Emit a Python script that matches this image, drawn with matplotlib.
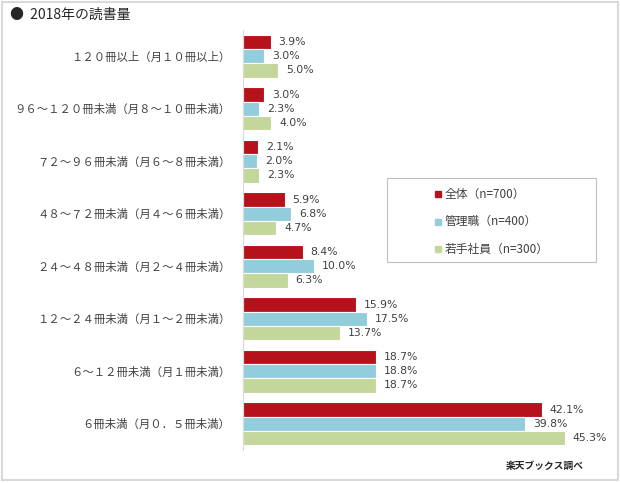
import numpy as np
import matplotlib.pyplot as plt
from matplotlib.patches import Rectangle

plt.rcParams['font.family'] = ['Noto Sans CJK JP', 'DejaVu Sans']

categories = ['１２０冊以上（月１０冊以上）', '９６～１２０冊未満（月８～１０冊未満）',
              '７２～９６冊未満（月６～８冊未満）', '４８～７２冊未満（月４～６冊未満）',
              '２４～４８冊未満（月２～４冊未満）', '１２～２４冊未満（月１～２冊未満）',
              '６～１２冊未満（月１冊未満）', '６冊未満（月０．５冊未満）']
zentai = [3.9, 3.0, 2.1, 5.9, 8.4, 15.9, 18.7, 42.1]
kanri = [3.0, 2.3, 2.0, 6.8, 10.0, 17.5, 18.8, 39.8]
wakate = [5.0, 4.0, 2.3, 4.7, 6.3, 13.7, 18.7, 45.3]
series_names = ['全体（n=700）', '管理職（n=400）', '若手社員（n=300）']
colors = ['#B5121B', '#92CDDC', '#C4D79B']

W, H = 620, 483
fig = plt.figure(figsize=(6.2, 4.83), dpi=100)
fig.patches.append(Rectangle((0.004, 0.006), 0.992, 0.99, transform=fig.transFigure,
                             fill=False, edgecolor='#D9D9D9', linewidth=1.5))
ax = fig.add_axes([243 / W, 1 - 450 / H, (600 - 243) / W, 420 / H])

y = np.arange(len(categories))
h = 0.27
for i, (vals, c) in enumerate(zip([zentai, kanri, wakate], colors)):
    pos = y + (i - 1) * h
    ax.barh(pos, vals, height=h, color=c, edgecolor='white', linewidth=0.8)
    for p, v in zip(pos, vals):
        ax.text(v + 1.1, p, f'{v:.1f}%', va='center', ha='left', fontsize=7.8,
                color='#404040', family='DejaVu Sans')

ax.set_xlim(0, 50.3)
ax.set_ylim(len(categories) - 0.5, -0.5)
ax.set_yticks(y)
ax.set_yticklabels(categories, fontsize=8.2, color='#404040')
ax.tick_params(axis='y', length=0, pad=9)
ax.set_xticks([])
for s in ['top', 'right', 'bottom']:
    ax.spines[s].set_visible(False)
ax.spines['left'].set_color('#D9D9D9')

# legend box drawn by hand to match the wide frame
fig.patches.append(Rectangle((387 / W, 1 - 262 / H), 209 / W, 84 / H, transform=fig.transFigure,
                             fill=False, edgecolor='#BFBFBF', linewidth=0.8))
for i, (name, c) in enumerate(zip(series_names, colors)):
    yc = 194 + i * 27.5
    fig.patches.append(Rectangle((435 / W, 1 - (yc + 3) / H), 6 / W, 6 / H,
                                 transform=fig.transFigure, color=c))
    fig.text(445 / W, 1 - yc / H, name, fontsize=8.5, color='#404040', va='center')

fig.text(10 / W, 1 - 15 / H, '●  2018年の読書量', fontsize=10, color='#262626', va='center')
fig.text(545 / W, 1 - 466 / H, '楽天ブックス調べ', fontsize=7, fontweight='bold',
         color='#262626', va='center', ha='center')

fig.savefig('out.png', dpi=100)
